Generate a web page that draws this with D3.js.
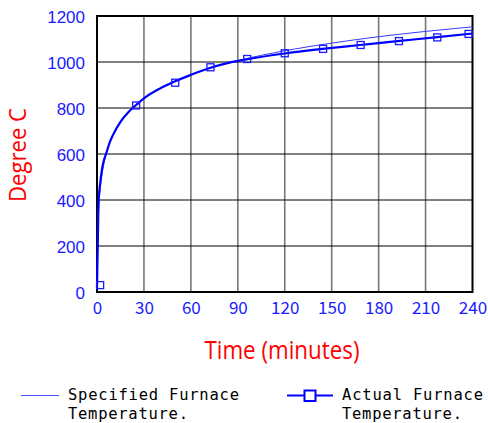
<!DOCTYPE html>
<html>
<head>
<meta charset="utf-8">
<script src="https://cdn.jsdelivr.net/npm/d3@7"></script>
<style>
  body { margin: 0; background: #fff; }
  svg { display: block; }
</style>
</head>
<body>
<script>
// Define SVG area dimensions
var svgWidth = 488;
var svgHeight = 423;

var chartMargin = { top: 16, right: 15.5, bottom: 131, left: 97 };
var chartWidth = svgWidth - chartMargin.left - chartMargin.right;
var chartHeight = svgHeight - chartMargin.top - chartMargin.bottom;

// tick labels
var xTicks = [0, 30, 60, 90, 120, 150, 180, 210, 240];
var yTicks = [0, 200, 400, 600, 800, 1000, 1200];

// specified furnace temperature
var specTime = [0, 0.5, 1, 2, 3, 4, 5, 6, 8, 10, 15, 20, 25, 30, 45, 60, 75, 90, 105, 120, 150, 180, 210, 240];
var specTemp = [20, 261, 349, 445, 502, 544, 576, 603, 645, 678, 739, 781, 815, 842, 902, 945, 979, 1006, 1029, 1049, 1082, 1110, 1133, 1153];

// actual furnace temperature (thick curve)
var actualTime = [0, 0.5, 1, 2, 3, 4, 6, 8, 10, 15, 20, 25, 30, 40, 50, 60, 72, 84, 96, 120, 144, 168, 192, 216, 240];
var actualTemp = [20, 210, 390, 470, 525, 562, 605, 648, 680, 740, 782, 813, 842, 884, 916, 944, 974, 996, 1012, 1037, 1057, 1074, 1091, 1107, 1124];

// actual furnace markers
var markTime = [2, 25, 50, 72.5, 96, 120, 144.5, 168.5, 193, 217.5, 237.5];
var markTemp = [30, 811, 910, 977, 1013, 1038, 1057, 1074, 1091, 1107, 1122];

var svg = d3.select("body")
    .append("svg")
    .attr("width", svgWidth)
    .attr("height", svgHeight);

var chart = svg.append("g")
    .attr("transform", "translate(" + chartMargin.left + ", " + chartMargin.top + ")");

var xScale = d3.scaleLinear().domain([0, 240]).range([0, chartWidth]);
var yScale = d3.scaleLinear().domain([0, 1200]).range([chartHeight, 0]);

// grid lines
chart.append("g")
    .selectAll("line")
    .data(xTicks.slice(1, -1))
    .enter()
    .append("line")
    .attr("x1", d => xScale(d)).attr("x2", d => xScale(d))
    .attr("y1", 0).attr("y2", chartHeight)
    .attr("stroke", "#777")
    .attr("stroke-width", 1.6);

chart.append("g")
    .selectAll("line")
    .data(yTicks.slice(1, -1))
    .enter()
    .append("line")
    .attr("x1", 0).attr("x2", chartWidth)
    .attr("y1", d => yScale(d)).attr("y2", d => yScale(d))
    .attr("stroke", "#000")
    .attr("stroke-width", 1);

// frame
chart.append("rect")
    .attr("x", 0).attr("y", 0)
    .attr("width", chartWidth).attr("height", chartHeight)
    .attr("fill", "none")
    .attr("stroke", "#000")
    .attr("stroke-width", 2);

// axes (labels only)
var bottomAxis = d3.axisBottom(xScale).tickValues(xTicks).tickSize(0).tickPadding(10)
    .tickFormat(d3.format("d"));
var leftAxis = d3.axisLeft(yScale).tickValues(yTicks).tickSize(0).tickPadding(12)
    .tickFormat(d3.format("d"));

var xAxis = chart.append("g")
    .attr("transform", "translate(0, " + chartHeight + ")")
    .call(bottomAxis);
xAxis.select(".domain").remove();
xAxis.selectAll("text")
    .style("font-family", "'Noto Sans CJK JP', sans-serif")
    .style("font-size", "17px")
    .style("fill", "#1a1aff");

var yAxis = chart.append("g").call(leftAxis);
yAxis.select(".domain").remove();
yAxis.selectAll("text")
    .attr("dy", ".36em")
    .style("font-family", "'Liberation Sans', Arial, sans-serif")
    .style("font-size", "17px")
    .style("fill", "#1a1aff");

// curves
var line = d3.line()
    .x(d => xScale(d[0]))
    .y(d => yScale(d[1]))
    .curve(d3.curveMonotoneX);

chart.append("path")
    .datum(specTime.map((t, i) => [t, specTemp[i]]))
    .attr("d", line)
    .attr("fill", "none")
    .attr("stroke", "#3a3aff")
    .attr("stroke-width", 1);

chart.append("path")
    .datum(actualTime.map((t, i) => [t, actualTemp[i]]))
    .attr("d", line)
    .attr("fill", "none")
    .attr("stroke", "#0000ff")
    .attr("stroke-width", 2.2);

chart.append("g")
    .selectAll("rect")
    .data(markTime.map((t, i) => [t, markTemp[i]]))
    .enter()
    .append("rect")
    .attr("x", d => xScale(d[0]) - 3.5)
    .attr("y", d => yScale(d[1]) - 3.5)
    .attr("width", 7).attr("height", 7)
    .attr("fill", "none")
    .attr("stroke", "#1a1aff")
    .attr("stroke-width", 1.3);

// axis titles
svg.append("text")
    .attr("transform", "translate(26, 155) rotate(-90)")
    .attr("text-anchor", "middle")
    .attr("textLength", 94)
    .attr("lengthAdjust", "spacingAndGlyphs")
    .style("font-family", "'Open Sans', sans-serif")
    .style("font-size", "24px")
    .style("fill", "#ff0000")
    .text("Degree C");

svg.append("text")
    .attr("x", 282).attr("y", 359)
    .attr("text-anchor", "middle")
    .attr("textLength", 155)
    .attr("lengthAdjust", "spacingAndGlyphs")
    .style("font-family", "'Open Sans', sans-serif")
    .style("font-size", "25px")
    .style("fill", "#ff0000")
    .text("Time (minutes)");

// legend
var legend = svg.append("g")
    .style("font-family", "'DejaVu Sans Mono', monospace")
    .style("font-size", "15.5px")
    .style("fill", "#000");

legend.append("line")
    .attr("x1", 21).attr("x2", 59).attr("y1", 395.5).attr("y2", 395.5)
    .attr("stroke", "#4a4aff").attr("stroke-width", 1);
legend.append("text").attr("x", 68).attr("y", 400)
    .attr("textLength", 171).attr("lengthAdjust", "spacing").text("Specified Furnace");
legend.append("text").attr("x", 68).attr("y", 419)
    .attr("textLength", 120).attr("lengthAdjust", "spacing").text("Temperature.");

legend.append("line")
    .attr("x1", 287).attr("x2", 333).attr("y1", 395.5).attr("y2", 395.5)
    .attr("stroke", "#0000ff").attr("stroke-width", 2.2);
legend.append("rect")
    .attr("x", 304.5).attr("y", 390.5).attr("width", 11).attr("height", 10.5)
    .attr("fill", "#fff").attr("stroke", "#0000ff").attr("stroke-width", 2);
legend.append("text").attr("x", 342).attr("y", 400)
    .attr("textLength", 141).attr("lengthAdjust", "spacing").text("Actual Furnace");
legend.append("text").attr("x", 342).attr("y", 419)
    .attr("textLength", 120).attr("lengthAdjust", "spacing").text("Temperature.");
</script>
</body>
</html>
